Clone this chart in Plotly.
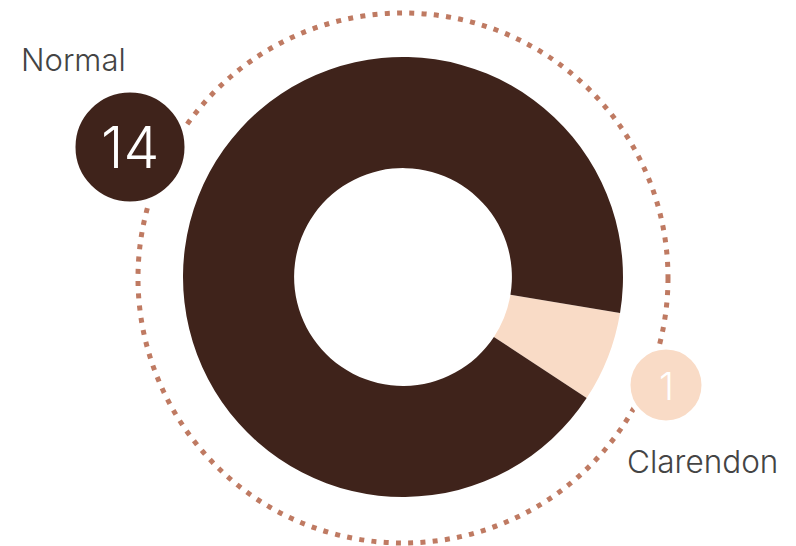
import plotly.graph_objects as go

# Data
categories = ["Clarendon", "Normal"]
values = [1, 14]
slice_colors = ["#f9dbc6", "#3f231b"]

# The page body has an 8px margin; offset all window-pixel positions by it
OFF = 8
W, H = 796 - OFF, 546 - OFF

def px_x(x):
    return (x - OFF) / W

def px_y(y):
    return 1 - (y - OFF) / H

# Donut geometry (window pixels)
cx, cy, R = 403, 277, 220

fig = go.Figure()
fig.add_trace(go.Pie(
    labels=categories,
    values=values,
    hole=0.495,
    sort=False,
    direction="clockwise",
    rotation=99.4,
    marker=dict(colors=slice_colors, line=dict(width=0)),
    textinfo="none",
    hoverinfo="label+value",
    showlegend=False,
    domain=dict(x=[px_x(cx - R), px_x(cx + R)], y=[px_y(cy + R), px_y(cy - R)]),
))

shapes = []
# dotted ring
Rd = 265
shapes.append(dict(
    type="circle", xref="paper", yref="paper",
    x0=px_x(cx - Rd), x1=px_x(cx + Rd), y0=px_y(cy + Rd + 1), y1=px_y(cy - Rd + 1),
    line=dict(color="#bf7a62", width=5, dash="5px,7.3px"),
    layer="above",
))

# badges: (center x, center y, radius, color, value, font size)
badges = [
    (130, 147, 57, "#3f231b", values[1], 57),
    (666, 385, 38, "#f9dbc6", values[0], 38),
]
annotations = []
for bx, by, br, col, val, fs in badges:
    shapes.append(dict(
        type="circle", xref="paper", yref="paper",
        x0=px_x(bx - br), x1=px_x(bx + br), y0=px_y(by + br), y1=px_y(by - br),
        fillcolor=col, line=dict(color="white", width=5), layer="above",
    ))
    annotations.append(dict(
        x=px_x(bx), y=px_y(by + 1), xref="paper", yref="paper",
        text=str(val), showarrow=False, xanchor="center", yanchor="middle",
        font=dict(family="Inter, Lato, sans-serif", size=fs, color="white", weight=350),
    ))

annotations.append(dict(
    x=px_x(19), y=px_y(60), xref="paper", yref="paper", text=categories[1],
    showarrow=False, xanchor="left", yanchor="middle",
    font=dict(family="Inter, Lato, sans-serif", size=31, color="#444444", weight=350),
))
annotations.append(dict(
    x=px_x(625), y=px_y(461), xref="paper", yref="paper", text=categories[0],
    showarrow=False, xanchor="left", yanchor="middle",
    font=dict(family="Inter, Lato, sans-serif", size=31.5, color="#444444", weight=350),
))

fig.update_layout(
    width=W, height=H,
    margin=dict(l=0, r=0, t=0, b=0),
    paper_bgcolor="white", plot_bgcolor="white",
    shapes=shapes, annotations=annotations,
    showlegend=False,
)
fig.write_html("out.html")
